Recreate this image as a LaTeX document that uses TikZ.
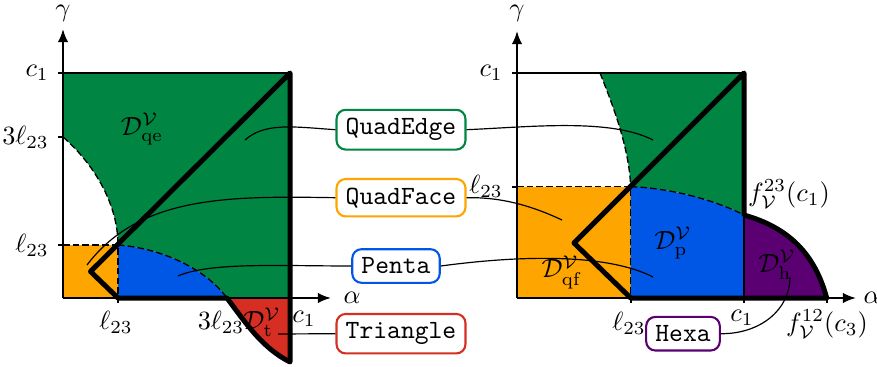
\documentclass[tikz,border=0pt]{standalone}
\usetikzlibrary{arrows.meta}
\definecolor{cgreen}{RGB}{0,133,66}
\definecolor{corange}{RGB}{255,165,0}
\definecolor{cblue}{RGB}{0,87,230}
\definecolor{cred}{RGB}{214,46,34}
\definecolor{cpurple}{RGB}{91,0,114}
\begin{document}
\begin{tikzpicture}[x=0.38pt,y=-0.38pt,
  bnd/.style={line width=1.9pt,line join=round,line cap=round},
  axisline/.style={line width=0.8pt},
  axarrow/.style={line width=0.8pt,-{Latex[length=5pt,width=4pt]}},
  dashline/.style={line width=0.5pt,dash pattern=on 2.5pt off 1.2pt},
  conn/.style={line width=0.45pt},
  lbox/.style={draw,line width=0.8pt,rounded corners=3.5pt,inner xsep=3.5pt,inner ysep=3.3pt,font=\ttfamily,fill=white},
  lab/.style={inner sep=0pt}]
\useasboundingbox (0,0) rectangle (877,367);

% ---------- left plot fills ----------
\fill[cgreen] (118,245) .. controls (118,205) and (95,165) .. (63,137) -- (63,73) -- (290,73) -- (290,298) -- (227,298) .. controls (205,268) and (160,248) .. (118,245) -- cycle;
\fill[corange] (63,245) rectangle (118,298);
\fill[cblue] (118,245) .. controls (160,248) and (205,268) .. (227,298) -- (118,298) -- cycle;
\fill[cred] (227,298) .. controls (245,322) and (262,348) .. (290,362) -- (290,298) -- cycle;
% dashed boundaries
\draw[dashline] (63,137) .. controls (95,165) and (118,205) .. (118,245);
\draw[dashline] (118,245) .. controls (160,248) and (205,268) .. (227,298);
\draw[dashline] (63,245) -- (118,245) -- (118,298);
% axes and frame
\draw[axisline] (63,73) -- (290,73);
\draw[axarrow] (63,298) -- (63,29);
\draw[axarrow] (63,298) -- (331,298);
\foreach \yy in {73,137,245} \draw[axisline] (58,\yy) -- (63,\yy);
\draw[axisline] (118,298) -- (118,303);
% thick boundary
\draw[bnd] (118,298) -- (227,298) .. controls (245,322) and (262,348) .. (290,362) -- (290,73) -- (90.5,271.5) -- cycle;
% axis labels
\node[lab] (gL) at (63,13) {$\gamma$};
\node[lab] (aL) at (352,298) {$\alpha$};
\node[left] (yc1L) at (58,73) {$c_1$};
\node[left] (y3lL) at (58,137) {$3\ell_{23}$};
\node[left] (ylL) at (58,245) {$\ell_{23}$};
\node[lab] (xlL) at (116,322) {$\ell_{23}$};
\node[lab] (x3lL) at (221,322) {$3\ell_{23}$};
\node[lab] (xc1L) at (304,319) {$c_1$};
\node[lab] (Dqe) at (142,129) {$\mathcal{D}^{\mathcal{V}}_{\mathrm{qe}}$};
\node[lab] (Dt) at (262,322) {$\mathcal{D}^{\mathcal{V}}_{\mathrm{t}}$};

% ---------- right plot fills ----------
\fill[cgreen] (600,73) -- (744,73) -- (744,215) .. controls (715,200) and (670,188) .. (630.7,186.7) .. controls (629,148) and (614,108) .. (600,73) -- cycle;
\fill[corange] (517,186.7) rectangle (630.7,298);
\fill[cblue] (630.7,186.7) .. controls (670,188) and (715,200) .. (744,215) -- (744,298) -- (630.7,298) -- cycle;
\fill[cpurple] (744,215) .. controls (790,228) and (815,255) .. (826.7,298) -- (744,298) -- cycle;
\draw[dashline] (600,73) .. controls (614,108) and (629,148) .. (630.7,186.7);
\draw[dashline] (630.7,186.7) .. controls (670,188) and (715,200) .. (744,215);
\draw[dashline] (517,186.7) -- (630.7,186.7) -- (630.7,298);
\draw[axisline] (517,73) -- (744,73);
\draw[axisline] (744,215) -- (744,298);
\draw[axarrow] (517,298) -- (517,31);
\draw[axarrow] (517,298) -- (856,298);
\foreach \yy in {73,186.7} \draw[axisline] (512,\yy) -- (517,\yy);
\foreach \xx in {630.7,744,826.7} \draw[axisline] (\xx,298) -- (\xx,303);
\draw[bnd] (630.7,298) -- (826.7,298) .. controls (815,255) and (790,228) .. (744,215) -- (744,73) -- (574,243) -- cycle;
\node[lab] (gR) at (517,13) {$\gamma$};
\node[lab] (aR) at (872,298) {$\alpha$};
\node[left] (yc1R) at (512,73) {$c_1$};
\node[left] (ylR) at (512,186.7) {$\ell_{23}$};
\node[lab] (xlR) at (629,323) {$\ell_{23}$};
\node[lab] (xc1R) at (742,318) {$c_1$};
\node[lab] (f12) at (827,324) {$f^{12}_{\mathcal{V}}(c_3)$};
\node[lab] (f23) at (789,194) {$f^{23}_{\mathcal{V}}(c_1)$};
\node[lab] (Dp) at (673,243) {$\mathcal{D}^{\mathcal{V}}_{\mathrm{p}}$};
\node[lab] (Dh) at (777,265) {$\mathcal{D}^{\mathcal{V}}_{\mathrm{h}}$};
\node[lab] (Dqf) at (562,272) {$\mathcal{D}^{\mathcal{V}}_{\mathrm{qf}}$};

% ---------- label boxes ----------
\node[lbox,draw=cgreen] (QE) at (401,129.7) {QuadEdge};
\node[lbox,draw=corange] (QF) at (401,197.7) {QuadFace};
\node[lbox,draw=cblue] (PE) at (396,266) {Penta};
\node[lbox,draw=cred] (TR) at (401,333.7) {Triangle};
\node[lbox,draw=cpurple] (HX) at (683,333.7) {Hexa};

% ---------- connectors ----------
\coordinate (qeL) at (245,140);
\coordinate (qeR) at (653,140);
\coordinate (qfL) at (87,265);
\coordinate (qfR) at (562,220);
\coordinate (peL) at (178,276);
\coordinate (peR) at (653,277);
\coordinate (trL) at (278,334);
\coordinate (hxR) at (790,277);
\draw[conn] (QE.west) .. controls (295,127) and (265,122) .. (qeL);
\draw[conn] (QE.east) .. controls (530,127) and (610,118) .. (qeR);
\draw[conn] (QF.west) .. controls (230,196) and (140,195) .. (qfL);
\draw[conn] (QF.east) .. controls (500,197) and (530,205) .. (qfR);
\draw[conn] (PE.west) .. controls (280,266) and (210,262) .. (peL);
\draw[conn] (PE.east) .. controls (530,254) and (610,255) .. (peR);
\draw[conn] (TR.west) -- (trL);
\draw[conn] (HX.east) .. controls (760,334) and (790,310) .. (hxR);
\end{tikzpicture}
\end{document}
